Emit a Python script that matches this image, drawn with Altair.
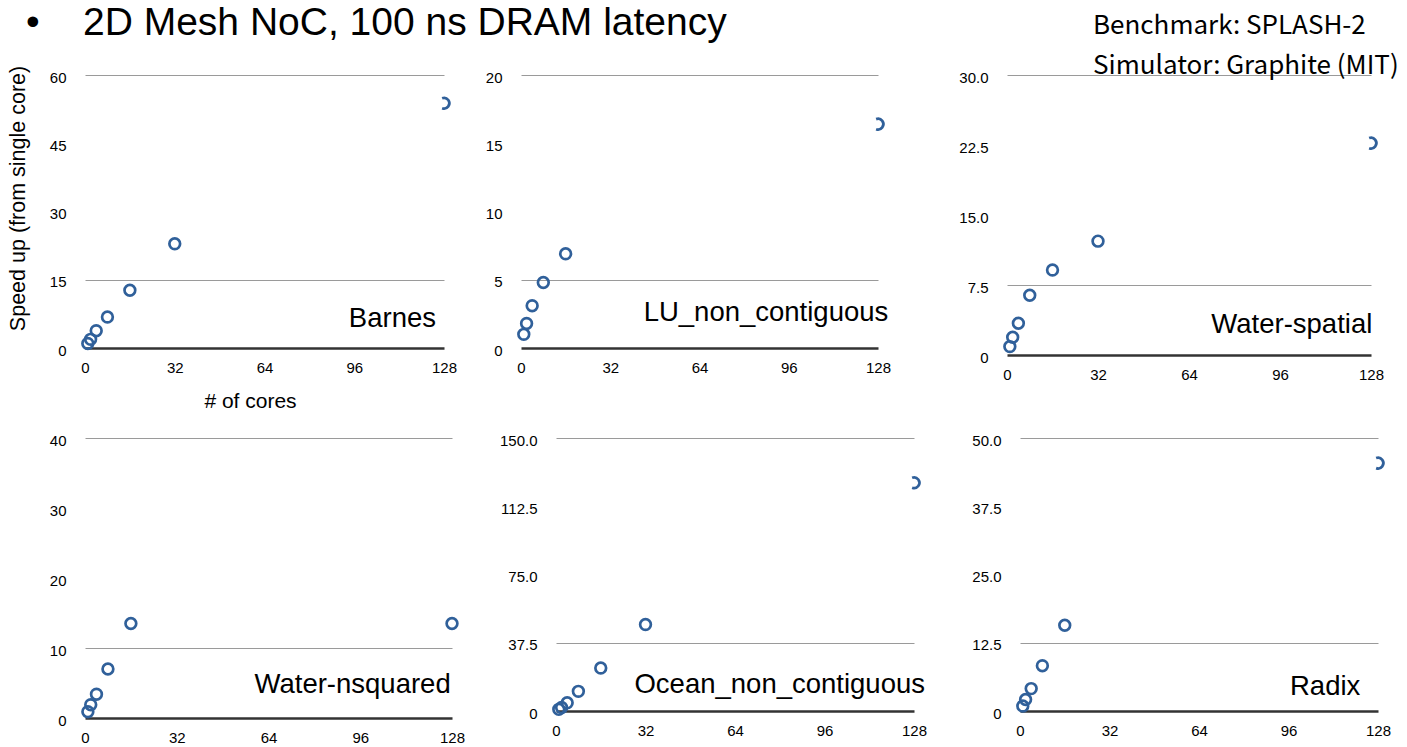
import altair as alt
import pandas as pd

# ---------------- data ----------------
cores7 = [1, 2, 4, 8, 16, 32, 128]
cores6 = [1, 2, 4, 8, 16, 128]

barnes = [1.0, 1.9, 3.8, 6.8, 12.7, 22.9, 53.8]
lu_non_contiguous = [1.0, 1.8, 3.1, 4.8, 6.9, 16.4]
water_spatial = [0.9, 1.9, 3.4, 6.4, 9.1, 12.2, 22.7]
water_nsquared = [0.9, 1.9, 3.4, 7.0, 13.5, 13.5]
ocean_non_contiguous = [0.9, 1.9, 4.5, 10.8, 23.6, 47.5, 125.4]
radix = [0.9, 2.1, 4.1, 8.3, 15.7, 45.4]

x_ticks = [0, 32, 64, 96, 128]
y_ticks_barnes = [0, 15, 30, 45, 60]
y_ticks_lu = [0, 5, 10, 15, 20]
y_ticks_ws = [0, 7.5, 15, 22.5, 30]
y_ticks_wn = [0, 10, 20, 30, 40]
y_ticks_ocean = [0, 37.5, 75, 112.5, 150]
y_ticks_radix = [0, 12.5, 25, 37.5, 50]

TITLE = "\u2022" + "\u00a0" * 4 + "2D Mesh NoC, 100 ns DRAM latency"
NOTE = ["Benchmark: SPLASH-2", "Simulator: Graphite (MIT)"]
Y_TITLE = "Speed up (from single core)"
X_TITLE = "# of cores"

BLUE = "#30609a"
FONT = "Liberation Sans"
CUT = "M -0.35 -0.937 A 1 1 0 1 1 -0.35 0.937"


def panel(name, cores, speed, yticks, fmt, width, height, lab_x, lab_y,
          extent, cut_last=True, first=False, title=None):
    kind = ["cut" if (c == 128 and cut_last) else "full" for c in cores]
    df = pd.DataFrame({"cores": cores, "speed": speed, "kind": kind})
    test = f"datum.value == {yticks[1]} || datum.value == {yticks[-1]}"
    yaxis_kw = dict(
        values=yticks,
        labelExpr=f"datum.value == 0 ? '0' : format(datum.value, '{fmt}')",
        domain=False, ticks=False, tickSize=0, labelPadding=19,
        labelFontSize=15, labelFont=FONT, labelColor="black",
        labelBaseline="middle", labelOffset=2,
        grid=True, gridColor="#9a9a9a", gridWidth=1,
        gridOpacity={"condition": {"test": test, "value": 1}, "value": 0},
        minExtent=extent, maxExtent=extent,
    )
    xaxis_kw = dict(
        values=x_ticks, domain=True, domainColor="#333333", domainWidth=2.5,
        ticks=False, tickSize=0, grid=False, labelPadding=12,
        labelFontSize=15, labelFont=FONT, labelColor="black",
        labelFlush=False, labelOverlap=False,
    )
    if first:
        yaxis_kw.update(title=Y_TITLE, titleX=-67, titleY=123, titleAngle=270,
                        titleBaseline="middle", titleAlign="center",
                        titleFontSize=21.5, titleFont=FONT,
                        titleFontWeight="normal", titleColor="black")
        xaxis_kw.update(title=X_TITLE, titleX=165, titleY=53,
                        titleBaseline="middle", titleAlign="center",
                        titleFontSize=21, titleFont=FONT,
                        titleFontWeight="normal", titleColor="black")
    else:
        yaxis_kw.update(title=None)
        xaxis_kw.update(title=None)

    pts = alt.Chart(df).mark_point(
        filled=False, size=115, strokeWidth=2.7, color=BLUE, opacity=1
    ).encode(
        x=alt.X("cores:Q", scale=alt.Scale(domain=[0, 128], nice=False),
                axis=alt.Axis(**xaxis_kw)),
        y=alt.Y("speed:Q", scale=alt.Scale(domain=[0, yticks[-1]], nice=False),
                axis=alt.Axis(**yaxis_kw)),
        shape=alt.Shape("kind:N", scale=alt.Scale(domain=["full", "cut"],
                                                  range=["circle", CUT]),
                        legend=None),
    )
    lab = alt.Chart(pd.DataFrame({"name": [name]})).mark_text(
        align="right", baseline="alphabetic", fontSize=27.5, font=FONT,
        color="black"
    ).encode(text="name:N", x=alt.value(lab_x), y=alt.value(lab_y))
    ch = alt.layer(pts, lab).properties(width=width, height=height)
    if title is not None:
        ch = ch.properties(title=title)
    return ch


note_title = alt.TitleParams(
    text=NOTE, anchor="start", frame="group", font="Noto Sans CJK JP",
    fontSize=26, fontWeight="normal", color="black", lineHeight=40,
    baseline="bottom", dx=86, dy=35, offset=0,
)

p1 = panel("Barnes", cores7, barnes, y_ticks_barnes, "d", 359, 273, 351, 252.3,
           40, first=True)
p2 = panel("LU_non_contiguous", cores6, lu_non_contiguous, y_ticks_lu, "d",
           357, 273, 367.3, 245.7, 64)
p3 = panel("Water-spatial", cores7, water_spatial, y_ticks_ws, ".1f",
           364, 280, 365.3, 258, 116, title=note_title)
p4 = panel("Water-nsquared", cores6, water_nsquared, y_ticks_wn, "d",
           367, 280, 365.7, 255, 40, cut_last=False)
p5 = panel("Ocean_non_contiguous", cores7, ocean_non_contiguous, y_ticks_ocean,
           ".1f", 358, 273, 369, 255, 91)
p6 = panel("Radix", cores6, radix, y_ticks_radix, ".1f", 358, 273, 340.3,
           256.7, 93)

row1 = alt.hconcat(p1, p2, p3, spacing=0)
row2 = alt.hconcat(p4, p5, p6, spacing=0)

chart = alt.vconcat(row1, row2, spacing=22).properties(
    title=alt.TitleParams(
        text=TITLE, anchor="start", frame="bounds", font=FONT, fontSize=39,
        fontWeight="normal", color="black", baseline="alphabetic",
        offset=0, dx=19, dy=61,
    ),
    padding={"left": 6, "top": 4, "right": 5, "bottom": 2},
    background="white",
).configure_view(strokeOpacity=0)

chart.save("out.html", embed_options={"renderer": "svg", "actions": False})
